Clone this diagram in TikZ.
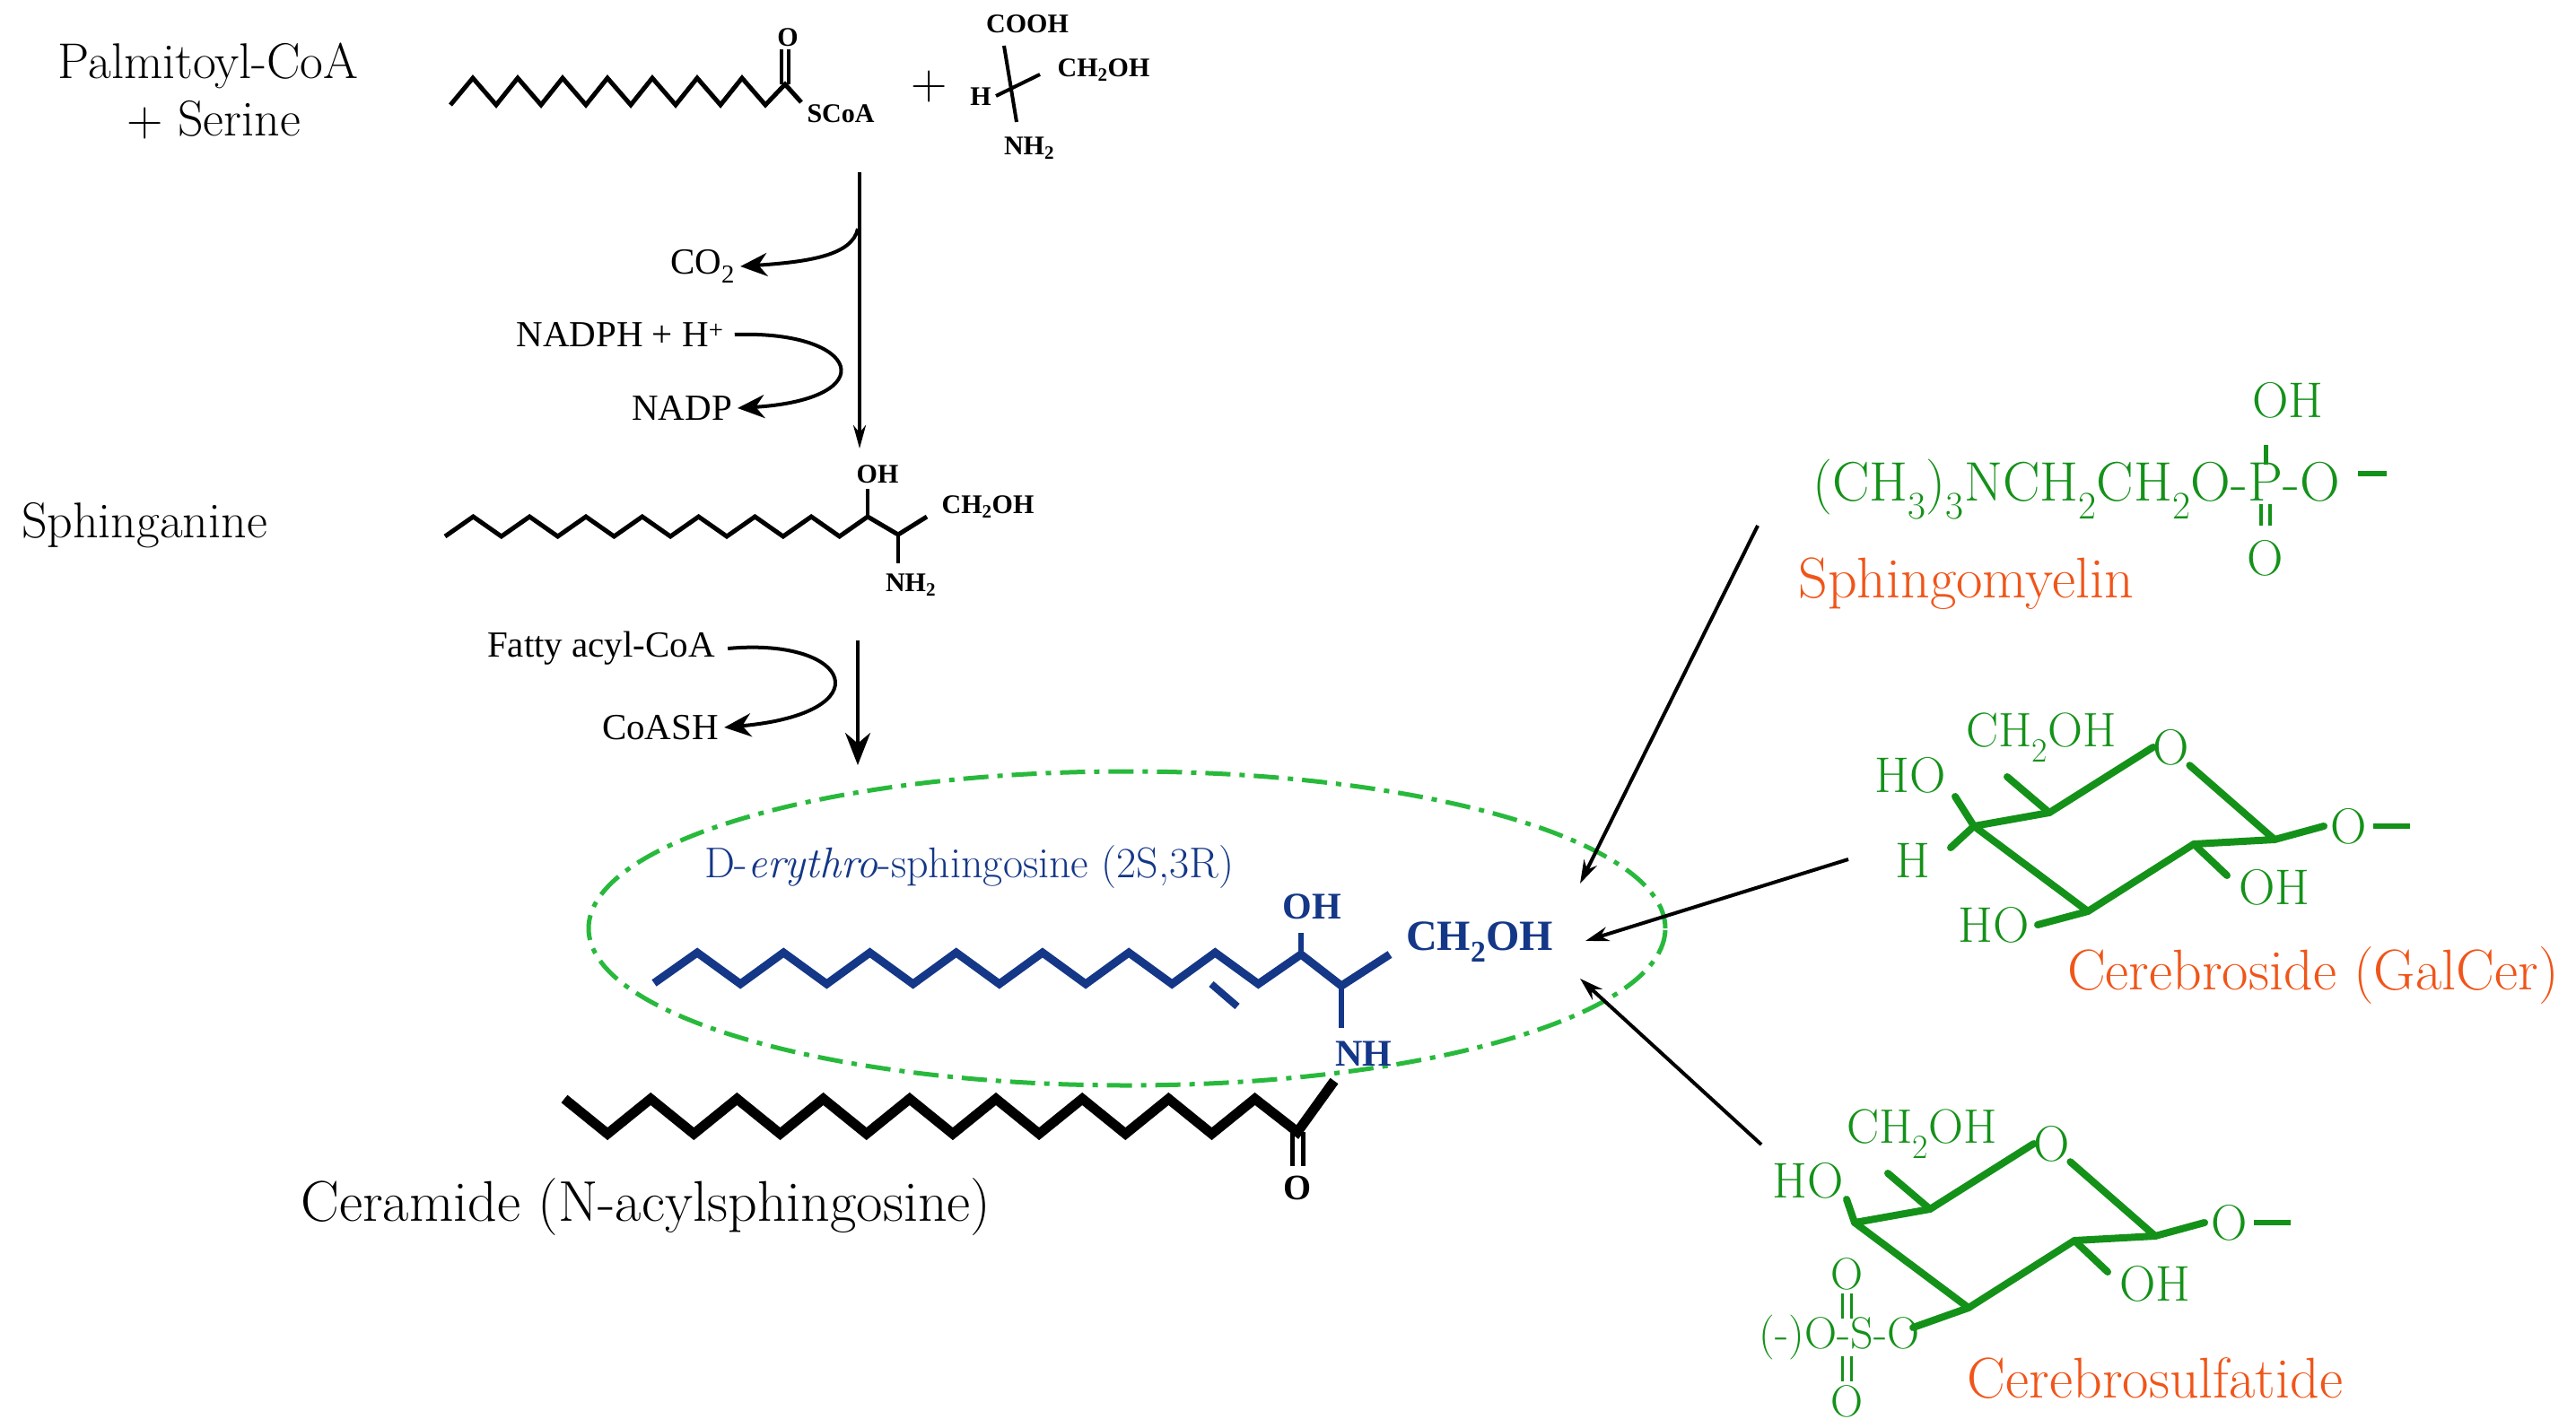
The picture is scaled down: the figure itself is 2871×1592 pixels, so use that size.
\documentclass[tikz,border=0pt]{standalone}
\usepackage{fontspec}
\newfontfamily\chem{Liberation Serif}
\usetikzlibrary{arrows.meta,shapes.geometric}
\definecolor{sgreen}{RGB}{20,145,25}
\definecolor{egreen}{RGB}{40,185,60}
\definecolor{sorange}{RGB}{240,85,25}
\definecolor{sblue}{RGB}{20,55,135}
\begin{document}
\begin{tikzpicture}[x=1pt,y=-1pt,
  lab/.style={inner sep=0pt,font=\fontsize{56}{62}\selectfont},
  sm/.style={inner sep=0pt,font=\chem\fontsize{41}{46}\selectfont},
  tiny/.style={inner sep=0pt,font=\chem\bfseries\fontsize{30}{34}\selectfont},
  gr/.style={inner sep=0pt,text=sgreen,font=\fontsize{56}{62}\selectfont},
  orl/.style={inner sep=0pt,text=sorange,font=\fontsize{64}{70}\selectfont},
  bl/.style={inner sep=0pt,text=sblue,font=\chem\bfseries\fontsize{42}{48}\selectfont},
  chain/.style={line width=5pt,line join=miter},
  ring/.style={draw=sgreen,line width=8pt,line join=round,line cap=round},
  rx/.style={line width=4pt},
  big/.style={-{Stealth[length=36pt,width=28pt]},line width=4pt}]
\useasboundingbox (0,0) rectangle (2871,1592);

% ---- top row
\node[lab] (pal) at (232,73) {Palmitoyl-CoA};
\node[lab] (ser) at (238,134) {+ Serine};
\draw[chain] (502,117) \foreach \i in {0,...,6}{ -- ({527+50*\i},87) -- ({553+50*\i},117)} -- (875,94) -- (893,114);
\draw[line width=4pt] (871,94) -- (871,55) (879,94) -- (879,55);
\node[tiny] (o1) at (878,42) {O};
\node[tiny] (scoa) at (937,127) {SCoA};
\node[inner sep=0pt,font=\fontsize{56}{60}\selectfont] (plus) at (1036,97) {+};
\coordinate (sc1) at (1119,51); \coordinate (sc2) at (1133,136);
\coordinate (sc3) at (1110,107); \coordinate (sc4) at (1159,83);
\draw[line width=4pt] (sc1) -- (sc2) (sc3) -- (sc4);
\node[tiny] (cooh) at (1145,27) {COOH};
\node[tiny] (ch2oh0) at (1230,78) {CH\textsubscript{2}OH};
\node[tiny] (h0) at (1093,108) {H};
\node[tiny] (nh20) at (1147,165) {NH\textsubscript{2}};

% ---- reaction 1
\coordinate (a1s) at (958,192);
\coordinate (a1e) at (958,500);
\draw[rx,-{Stealth[length=26pt,width=14pt]}] (a1s) -- (a1e);
\node[sm] (co2) at (783,297) {CO\textsubscript{2}};
\coordinate (c1s) at (956,255);
\draw[rx,-{Stealth[length=30pt,width=26pt]}] (c1s) .. controls (950,285) and (900,292) .. ([xshift=6pt]co2.east);
\node[sm] (nadph) at (691,373) {NADPH + H\textsuperscript{+}};
\node[sm] (nadp) at (760,455) {NADP};
\draw[rx,-{Stealth[length=30pt,width=26pt]}] ([xshift=12pt]nadph.east) .. controls (960,368) and (985,445) .. ([xshift=6pt]nadp.east);

% ---- sphinganine
\node[lab] (sphn) at (161,586) {Sphinganine};
\draw[chain] (496,598) \foreach \i in {0,...,6}{ -- ({496+31.4*(2*\i+1)},576) -- ({496+31.4*(2*\i+2)},598)} -- (967,576) -- (1001,596) -- (1033,576);
\draw[line width=4pt] (967,576) -- (967,545) (1001,596) -- (1001,628);
\node[tiny] (oh1) at (978,529) {OH};
\node[tiny] (ch2oh1) at (1101,565) {CH\textsubscript{2}OH};
\node[tiny] (nh21) at (1015,652) {NH\textsubscript{2}};

% ---- reaction 2
\node[sm] (fac) at (670,723) {Fatty acyl-CoA};
\node[sm] (coash) at (736,811) {CoASH};
\coordinate (a2s) at (956,714);
\coordinate (a2e) at (956,853);
\draw[big] (a2s) -- (a2e);
\draw[rx,-{Stealth[length=30pt,width=26pt]}] ([xshift=14pt]fac.east) .. controls (950,710) and (985,795) .. ([xshift=6pt]coash.east);

% ---- ellipse + sphingosine
\node[draw=egreen,line width=5pt,dash pattern=on 28pt off 10pt on 6pt off 10pt,ellipse,minimum width=1200pt,minimum height=350pt] (ell) at (1256,1035) {};
\node[inner sep=0pt,text=sblue,font=\fontsize{48}{54}\selectfont] (dery) at (1080,967) {D-\textit{erythro}-sphingosine (2S,3R)};
\draw[chain,draw=sblue,line width=9pt] (729,1096) \foreach \i in {0,...,6}{ -- ({729+48.1*(2*\i+1)},1062) -- ({729+48.1*(2*\i+2)},1097)} -- (1450,1064) -- (1495,1099) -- (1549,1064);
\draw[draw=sblue,line width=8pt] (1350,1097) -- (1379,1122);
\draw[draw=sblue,line width=6pt] (1450,1064) -- (1450,1040) (1495,1099) -- (1495,1146);
\node[bl] (oh2) at (1462,1011) {OH};
\node[bl,font=\chem\bfseries\fontsize{48}{52}\selectfont] (ch2oh2) at (1649,1050) {CH\textsubscript{2}OH};
\node[bl] (nh) at (1520,1175) {NH};

% ---- acyl chain
\draw[chain,line width=11pt] (629,1225) \foreach \i in {0,...,7}{ -- ({629+48.1*(2*\i+1)},1264) -- ({629+48.1*(2*\i+2)},1225)} -- (1446,1262) -- (1487,1205);
\draw[line width=5pt] (1440,1262) -- (1440,1300) (1452,1262) -- (1452,1300);
\node[inner sep=0pt,font=\chem\bfseries\fontsize{40}{44}\selectfont] (o2) at (1446,1324) {O};
\node[inner sep=0pt,font=\fontsize{64}{70}\selectfont] (cer) at (720,1346) {Ceramide (N-acylsphingosine)};

% ---- sphingomyelin
\node[gr,font=\fontsize{62}{68}\selectfont] (smp) at (2525,537) {P};
\node[gr,font=\fontsize{62}{68}\selectfont,anchor=base east] (smf) at (smp.base west) {(CH\textsubscript{3})\textsubscript{3}NCH\textsubscript{2}CH\textsubscript{2}O-};
\node[gr,font=\fontsize{62}{68}\selectfont,anchor=base west] (smr) at (smp.base east) {-O};
\draw[draw=sgreen,line width=6pt] (2628,528) -- (2660,528);
\draw[draw=sgreen,line width=5pt] ([yshift=-2pt]smp.north) -- ++(0,-22);
\draw[draw=sgreen,line width=4pt] ([xshift=-5pt,yshift=-4pt]smp.south) -- ++(0,24) ([xshift=5pt,yshift=-4pt]smp.south) -- ++(0,24);
\node[gr] (smoh) at (2550,446) {OH};
\node[gr] (smo) at (2525,622) {O};
\node[orl] (smn) at (2191,651) {Sphingomyelin};

% ---- cerebroside
\foreach \dx/\dy/\nm in {0/0/g,-133/442/s}{
\begin{scope}[shift={(\dx,\dy)}]
\coordinate (\nm4) at (2200,921); \coordinate (\nm5) at (2284,906);
\coordinate (\nm1) at (2535,936); \coordinate (\nm2) at (2445,941); \coordinate (\nm3) at (2327,1016);
\node[gr] (\nm O) at (2420,833) {O};
\draw[ring] (\nm O.west) -- (\nm5) -- (\nm4) -- (\nm3) -- (\nm2) -- (\nm1) -- (\nm O.south east);
\draw[ring] (\nm5) -- (2237,866);
\draw[ring] (\nm2) -- (2482,976);
\draw[ring] (\nm1) -- (2590,921);
\node[gr,font=\fontsize{54}{60}\selectfont] (\nm ch) at (2275,822) {CH\textsubscript{2}OH};
\node[gr] (\nm oh) at (2535,989) {OH};
\node[gr] (\nm ol) at (2618,921) {O};
\draw[draw=sgreen,line width=6pt] (2645,921) -- (2686,921);
\end{scope}}
\draw[ring] (g4) -- (2179,888) (g4) -- (2174,945) (g3) -- (2271,1031);
\node[gr] (gho) at (2129,864) {HO};
\node[gr] (gh) at (2132,959) {H};
\node[gr] (gho2) at (2222,1031) {HO};
\node[orl] (gcn) at (2578,1088) {Cerebroside (GalCer)};

% ---- sulfatide
\draw[ring] (s4) -- (2058,1337) (s3) -- (2132,1480);
\node[gr] (sho) at (2015,1316) {HO};
\node[gr,font=\fontsize{50}{54}\selectfont] (so4) at (2050,1491) {(-)O-S-O};
\node[gr,font=\fontsize{50}{54}\selectfont] (so4a) at (2058,1420) {O};
\node[gr,font=\fontsize{50}{54}\selectfont] (so4b) at (2058,1562) {O};
\draw[draw=sgreen,line width=3pt] (2053,1442) -- (2053,1470) (2063,1442) -- (2063,1470) (2053,1512) -- (2053,1540) (2063,1512) -- (2063,1540);
\node[orl] (scn) at (2402,1537) {Cerebrosulfatide};

% ---- arrows to ceramide
\coordinate (t1) at (1761,985); \coordinate (t2) at (1767,1049); \coordinate (t3) at (1761,1091);
\coordinate (f1) at (1959,586); \coordinate (f2) at (2060,958); \coordinate (f3) at (1963,1276);
\draw[rx,-{Stealth[length=26pt,width=16pt]}] (f1) -- (t1);
\draw[rx,-{Stealth[length=26pt,width=16pt]}] (f2) -- (t2);
\draw[rx,-{Stealth[length=26pt,width=16pt]}] (f3) -- (t3);
\end{tikzpicture}
\end{document}
